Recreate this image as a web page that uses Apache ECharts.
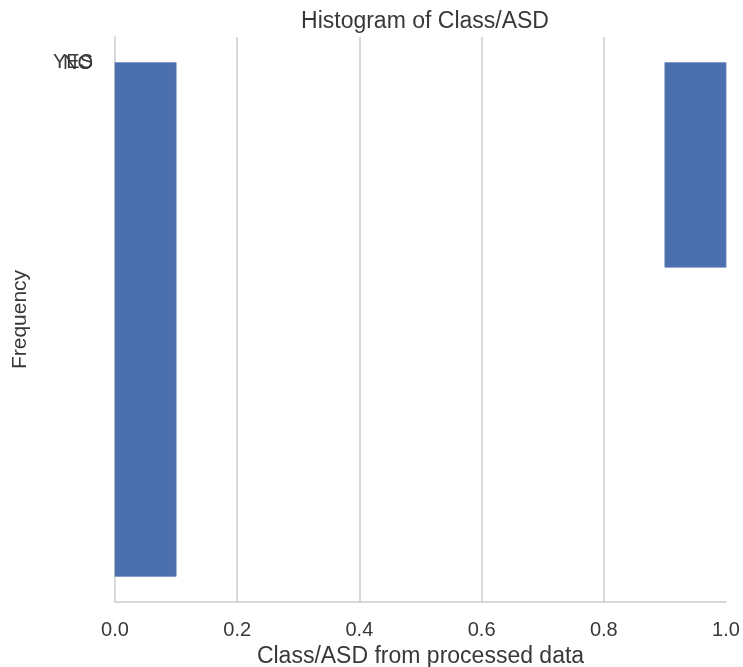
<!DOCTYPE html>
<html>
<head>
<meta charset="utf-8">
<script src="https://cdn.jsdelivr.net/npm/echarts@6/dist/echarts.min.js"></script>
<style>
  html, body { margin: 0; padding: 0; background: #fff; }
  #chart { width: 743px; height: 667px; }
</style>
</head>
<body>
<div id="chart"></div>
<script>
// Histogram bins: left/right edges and counts
const binStart = [0.0, 0.9];
const binEnd = [0.1, 1.0];
const counts = [515, 205];

// Category tick labels on the frequency axis
const yTickValues = [0, 1];
const yTickLabels = ['YES', 'NO'];

const maxCount = Math.max(...counts);
const pad = maxCount * 0.05;

const FONT = 'Liberation Sans, Arial, sans-serif';
const TEXT = '#383838';
const GRID = '#cccccc';

const chart = echarts.init(document.getElementById('chart'), null, { renderer: 'canvas' });

const barData = binStart.map((s, i) => [s, binEnd[i], counts[i]]);

// One frequency axis per category label so both labels are drawn
function freqAxis(idx, showLine) {
  return {
    type: 'value',
    inverse: true,
    min: -pad,
    max: maxCount + pad,
    position: 'left',
    name: idx === 0 ? 'Frequency' : '',
    nameLocation: 'middle',
    nameGap: 84,
    nameTextStyle: { fontSize: 21, color: TEXT, fontFamily: FONT },
    axisLine: { show: showLine, onZero: false, lineStyle: { color: GRID, width: 1.5 } },
    axisTick: { show: false },
    axisLabel: {
      customValues: [yTickValues[idx]],
      hideOverlap: false,
      fontSize: 20,
      color: TEXT,
      fontFamily: FONT,
      margin: 22,
      formatter: () => yTickLabels[idx]
    },
    splitLine: { show: false }
  };
}

const option = {
  animation: false,
  backgroundColor: '#ffffff',
  textStyle: { fontFamily: FONT },
  title: {
    text: 'Histogram of Class/ASD',
    left: 420,
    textAlign: 'center',
    top: 5,
    textStyle: { fontSize: 23, fontWeight: 'normal', color: TEXT, fontFamily: FONT }
  },
  grid: { left: 115, right: 17, top: 37, bottom: 65, containLabel: false, outerBoundsMode: 'none' },
  xAxis: {
    type: 'value',
    min: 0,
    max: 1,
    interval: 0.2,
    name: 'Class/ASD from processed data',
    nameLocation: 'middle',
    nameGap: 43,
    nameTextStyle: { fontSize: 23, color: TEXT, fontFamily: FONT },
    axisLine: { show: true, onZero: false, lineStyle: { color: GRID, width: 1.5 } },
    axisTick: { show: false },
    axisLabel: {
      fontSize: 20,
      color: TEXT,
      fontFamily: FONT,
      margin: 18,
      formatter: v => v.toFixed(1)
    },
    splitLine: { show: true, showMinLine: false, showMaxLine: false, lineStyle: { color: GRID, width: 1.5 } }
  },
  yAxis: [freqAxis(0, true), freqAxis(1, false)],
  series: [{
    type: 'custom',
    data: barData,
    encode: { x: [0, 1], y: 2 },
    renderItem: function (params, api) {
      const p0 = api.coord([api.value(0), 0]);
      const p1 = api.coord([api.value(1), api.value(2)]);
      return {
        type: 'rect',
        shape: {
          x: p0[0],
          y: Math.min(p0[1], p1[1]),
          width: p1[0] - p0[0],
          height: Math.abs(p1[1] - p0[1])
        },
        style: { fill: '#4c6fad', stroke: '#5b7cb8', lineWidth: 0.8 }
      };
    }
  }]
};

chart.setOption(option);
</script>
</body>
</html>
